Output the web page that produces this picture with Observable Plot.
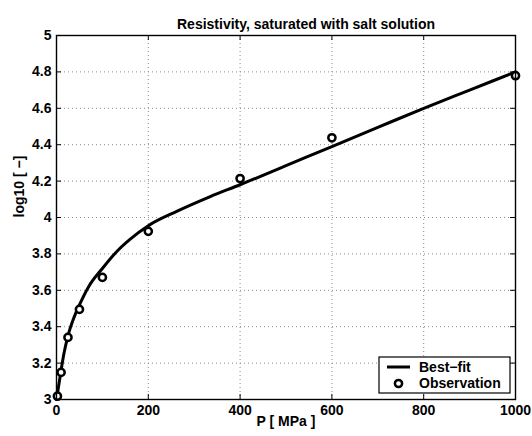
<!DOCTYPE html>
<html>
<head>
<meta charset="utf-8">
<script src="https://cdn.jsdelivr.net/npm/d3@7"></script>
<script src="https://cdn.jsdelivr.net/npm/@observablehq/plot@0.6"></script>
<style>
  html, body { margin: 0; padding: 0; background: white; }
  #chart { width: 532px; height: 436px; }
</style>
</head>
<body>
<div id="chart"></div>
<script>
// Observations
const obsP = [2, 10, 25, 50, 100, 200, 400, 600, 1000];
const obsV = [3.018, 3.149, 3.341, 3.495, 3.671, 3.924, 4.214, 4.438, 4.779];

// Best-fit curve
const fitP = [0, 5, 10, 16, 25, 38, 50, 70, 100, 132, 160, 200, 263, 335, 400, 500, 600, 700, 800, 900, 1000];
const fitV = [3.00, 3.08, 3.16, 3.25, 3.35, 3.45, 3.52, 3.62, 3.72, 3.815, 3.88, 3.955, 4.035, 4.115, 4.18, 4.285, 4.39, 4.495, 4.60, 4.70, 4.80];

const xTicks = [0, 200, 400, 600, 800, 1000];
const yTicks = [3, 3.2, 3.4, 3.6, 3.8, 4, 4.2, 4.4, 4.6, 4.8, 5];

const titleText = "Resistivity, saturated with salt solution";
const xLabel = "P [ MPa ]";
const yLabel = "log10 [ \u2212]";
const legendLabels = ["Best\u2212fit", "Observation"];

const obs = obsP.map((p, i) => ({P: p, v: obsV[i]}));
const fit = fitP.map((p, i) => ({P: p, v: fitV[i]}));

const font = "'Liberation Sans', Arial, Helvetica, sans-serif";
const W = 532, H = 436, mL = 56, mR = 17, mT = 35, mB = 37;
const fw = W - mL - mR, fh = H - mT - mB;
const tl = 5;
const txt = {fontSize: 14, fontWeight: "bold", fill: "black"};

const chart = Plot.plot({
  width: W, height: H,
  marginLeft: mL, marginRight: mR, marginTop: mT, marginBottom: mB,
  style: {fontFamily: font, fontSize: "14px", fontWeight: "bold", color: "black", background: "white", overflow: "visible"},
  x: {domain: [0, 1000]},
  y: {domain: [3, 5]},
  marks: [
    Plot.gridX(xTicks, {stroke: "#8a8a8a", strokeOpacity: 1, strokeDasharray: "1,3"}),
    Plot.gridY(yTicks, {stroke: "#8a8a8a", strokeOpacity: 1, strokeDasharray: "1,3"}),
    Plot.tickX(xTicks, {x: d => d, insetTop: fh - tl, stroke: "black"}),
    Plot.tickX(xTicks, {x: d => d, insetBottom: fh - tl, stroke: "black"}),
    Plot.tickY(yTicks, {y: d => d, insetRight: fw - tl, stroke: "black"}),
    Plot.tickY(yTicks, {y: d => d, insetLeft: fw - tl, stroke: "black"}),
    Plot.line(fit, {x: "P", y: "v", stroke: "black", strokeWidth: 3, curve: "monotone-x"}),
    Plot.dot(obs, {x: "P", y: "v", r: 3.6, stroke: "black", strokeWidth: 2.5, fill: "white"}),
    Plot.frame({stroke: "black", strokeWidth: 1.4}),
    Plot.axisX(xTicks, {tickSize: 0, tickPadding: 6, label: null, tickFormat: d => String(d), ...txt}),
    Plot.axisY(yTicks, {tickSize: 0, tickPadding: 5, label: null, tickFormat: d => String(d), ...txt}),
    Plot.text([titleText], {frameAnchor: "top", dy: -16, dx: 20, text: d => d, ...txt}),
    Plot.text([xLabel], {frameAnchor: "bottom", dy: 26, text: d => d, ...txt}),
    Plot.text([yLabel], {frameAnchor: "left", dx: -37, rotate: -90, text: d => d, ...txt})
  ]
});
document.getElementById("chart").appendChild(chart);

// Legend box (lower right, inside axes)
const svg = d3.select(chart);
const lg = svg.append("g").attr("font-family", font).attr("font-size", 14).attr("font-weight", "bold")
  .attr("text-anchor", "start");
const lx = 379, ly = 357, lw = 131, lh = 36;
lg.append("rect").attr("x", lx).attr("y", ly).attr("width", lw).attr("height", lh)
  .attr("fill", "white").attr("stroke", "black").attr("stroke-width", 1.2);
lg.append("line").attr("x1", lx + 8).attr("x2", lx + 31).attr("y1", ly + 10).attr("y2", ly + 10)
  .attr("stroke", "black").attr("stroke-width", 3);
lg.append("circle").attr("cx", lx + 19.5).attr("cy", ly + 26.5).attr("r", 3.6)
  .attr("fill", "white").attr("stroke", "black").attr("stroke-width", 2.5);
lg.append("text").attr("x", lx + 40).attr("y", ly + 10).attr("dy", "0.35em").attr("text-anchor", "start").attr("fill", "black").text(legendLabels[0]);
lg.append("text").attr("x", lx + 40).attr("y", ly + 26.5).attr("dy", "0.35em").attr("text-anchor", "start").attr("fill", "black").text(legendLabels[1]);
</script>
</body>
</html>
